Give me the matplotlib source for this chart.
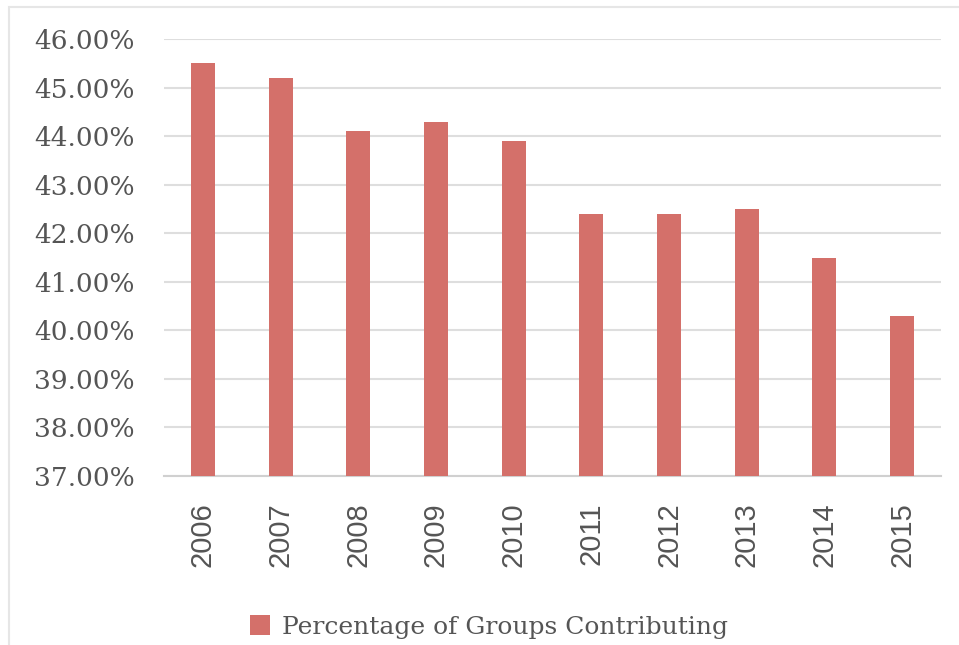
import matplotlib
matplotlib.use("Agg")
import matplotlib.pyplot as plt
from matplotlib.patches import Rectangle
from matplotlib.ticker import FuncFormatter

years = ["2006", "2007", "2008", "2009", "2010", "2011", "2012", "2013", "2014", "2015"]
values = [45.5, 45.2, 44.1, 44.3, 43.9, 42.4, 42.4, 42.5, 41.5, 40.3]
series_name = "Percentage of Groups Contributing"

W, H = 959, 645
fig = plt.figure(figsize=(W / 100, H / 100), dpi=100)
ax = fig.add_axes([164 / W, 1 - 476 / H, (941 - 164) / W, (476 - 39) / H])

text_color = "#555555"
bar_color = "#D4706A"
grid_color = "#DEDEDE"

x = list(range(len(years)))
ax.bar(x, values, width=0.31, color=bar_color, label=series_name, zorder=3)
ax.set_ylim(37, 46)
ax.set_xlim(-0.5, len(years) - 0.5)
ax.set_yticks([37, 38, 39, 40, 41, 42, 43, 44, 45, 46])
ax.yaxis.set_major_formatter(FuncFormatter(lambda v, p: f"{v:.2f}%"))
ax.set_xticks(x)
ax.set_xticklabels(years, rotation=90, fontfamily="Liberation Sans", fontsize=21, color=text_color)
for lbl in ax.get_yticklabels():
    lbl.set_fontfamily("DejaVu Serif")
    lbl.set_fontsize(19)
    lbl.set_color(text_color)
ax.tick_params(axis="both", length=0)
ax.tick_params(axis="y", pad=21)
ax.tick_params(axis="x", pad=19)
ax.grid(axis="y", color=grid_color, linewidth=1.5, zorder=0)
for s in ["top", "right", "left"]:
    ax.spines[s].set_visible(False)
ax.spines["bottom"].set_color("#D0D0D0")
ax.spines["bottom"].set_linewidth(1.5)

leg = fig.legend(loc="center", bbox_to_anchor=(489 / W, 1 - 627 / H), frameon=False,
                 prop={"family": "DejaVu Serif", "size": 18}, handlelength=0.8,
                 handleheight=0.8, handletextpad=0.5)
for t in leg.get_texts():
    t.set_color(text_color)

# outer chart border: only top and left edges visible in the cropped reference
fig.patches.append(Rectangle((9 / W, -0.1), 1.2, 1.1 - 7 / H, transform=fig.transFigure,
                             fill=False, edgecolor="#E6E6E6", linewidth=1.5))

fig.savefig("out.png", dpi=100)
